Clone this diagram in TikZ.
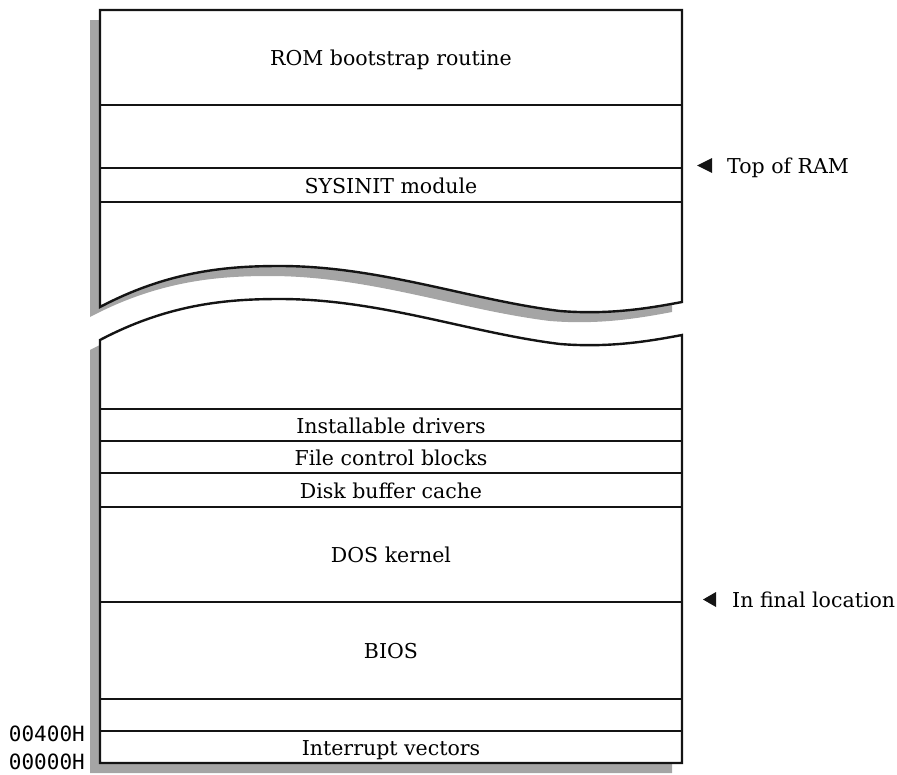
\documentclass[tikz,border=0pt]{standalone}
\usepackage{fontspec}
\setmainfont{DejaVu Serif}
\newfontfamily\addrfont{DejaVu Sans Mono}
\usetikzlibrary{positioning}
\definecolor{mmedge}{RGB}{20,20,20}
\definecolor{mmshade}{RGB}{165,165,165}
\tikzset{
  mmbox/.style={draw=mmedge, line width=2.4pt, fill=white, line join=miter},
  mmrule/.style={draw=mmedge, line width=2pt},
  mmshadow/.style={fill=mmshade, draw=none},
  region/.style={font=\fontsize{20.5}{24}\selectfont, inner sep=0pt, anchor=base},
  addr/.style={font=\addrfont\fontsize{21}{24}\selectfont, inner sep=0pt, anchor=base east},
  note/.style={font=\fontsize{20.5}{24}\selectfont, inner sep=0pt, anchor=base west},
  marker/.style={fill=mmedge, draw=none}
}

\begin{document}
\begin{tikzpicture}[x=1pt, y=-1pt]
  \useasboundingbox (0,0) rectangle (897,774);

  % upper piece: shadow, then outline with torn bottom
  \fill[mmshadow, shift={(-10,10)}] (100,10) -- (682,10) -- (682,302)
    .. controls (650,308) and (610,315) .. (560,311)
    .. controls (470,300) and (380,266) .. (280,266)
    .. controls (230,266) and (170,270) .. (100,307) -- cycle;
  \draw[mmbox] (100,10) -- (682,10) -- (682,302)
    .. controls (650,308) and (610,315) .. (560,311)
    .. controls (470,300) and (380,266) .. (280,266)
    .. controls (230,266) and (170,270) .. (100,307) -- cycle;

  % lower piece
  \fill[mmshadow, shift={(-10,10)}] (100,340)
    .. controls (170,303) and (230,299) .. (280,299)
    .. controls (380,299) and (470,333) .. (560,344)
    .. controls (610,348) and (650,341) .. (682,335)
    -- (682,763) -- (100,763) -- cycle;
  \draw[mmbox] (100,340)
    .. controls (170,303) and (230,299) .. (280,299)
    .. controls (380,299) and (470,333) .. (560,344)
    .. controls (610,348) and (650,341) .. (682,335)
    -- (682,763) -- (100,763) -- cycle;

  % dividing lines
  \foreach \yy in {105,168,202,409,441,473,507,602,699,731}
    \draw[mmrule] (100,\yy) -- (682,\yy);

  % region names
  \node[region] (rom)   at (391,65)  {ROM bootstrap routine};
  \node[region] (sysin) at (391,193) {SYSINIT module};
  \node[region] (drv)   at (391,433) {Installable drivers};
  \node[region] (fcb)   at (391,465) {File control blocks};
  \node[region] (cache) at (391,498) {Disk buffer cache};
  \node[region] (kern)  at (391,562) {DOS kernel};
  \node[region] (bios)  at (391,658) {BIOS};
  \node[region] (ivec)  at (391,755) {Interrupt vectors};

  % addresses
  \node[addr] (a400) at (85,741) {00400H};
  \node[addr] (a000) at (85,769) {00000H};

  % side notes
  \node[note] (ram) at (727,173) {Top of RAM};
  \node[note] (fin) at (732,607) {In final location};
  \fill[marker] (697,165.5) -- (712,158) -- (712,173) -- cycle;
  \fill[marker] (703,599.5) -- (716,592) -- (716,607) -- cycle;
\end{tikzpicture}
\end{document}
